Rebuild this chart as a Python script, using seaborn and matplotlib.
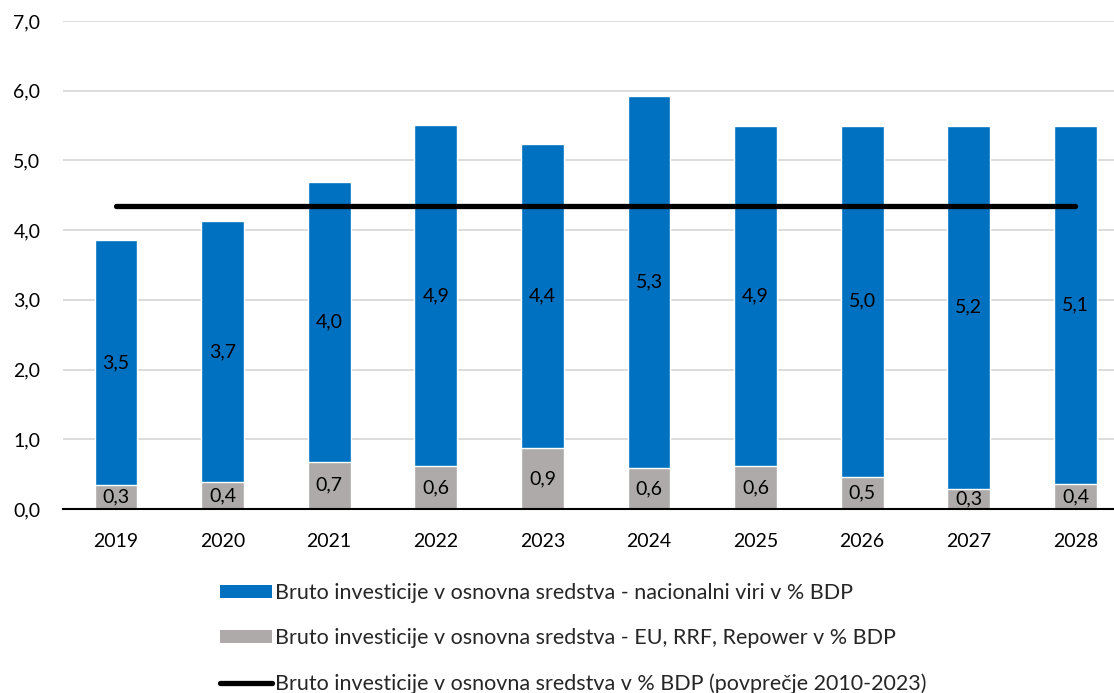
import numpy as np
import pandas as pd
import matplotlib
matplotlib.use("Agg")
import matplotlib.pyplot as plt
import seaborn as sns
from matplotlib.patches import Patch
from matplotlib.lines import Line2D

years = ["2019", "2020", "2021", "2022", "2023", "2024", "2025", "2026", "2027", "2028"]
eu_vals = [0.34, 0.39, 0.68, 0.61, 0.87, 0.59, 0.62, 0.46, 0.29, 0.36]
national_vals = [3.52, 3.74, 4.01, 4.90, 4.37, 5.34, 4.88, 5.04, 5.21, 5.14]
avg_value = 4.34
y_ticks = [0, 1, 2, 3, 4, 5, 6, 7]

label_nat = "Bruto investicije v osnovna sredstva - nacionalni viri v % BDP"
label_eu = "Bruto investicije v osnovna sredstva - EU, RRF, Repower v % BDP"
label_avg = "Bruto investicije v osnovna sredstva v % BDP (povprečje 2010-2023)"

BLUE = "#0070C0"
GREY = "#AEAAAA"

sns.set_theme(style="white")
plt.rcParams["font.family"] = ["Lato", "DejaVu Sans"]

df = pd.DataFrame({"year": years, "eu": eu_vals, "nat": national_vals})
df["total"] = df["eu"] + df["nat"]

fig = plt.figure(figsize=(11.14, 6.93), dpi=100)
W, H = 1114, 693
ax = fig.add_axes([62.7 / W, (H - 509) / H, 1066 / W, 488 / H])

sns.barplot(data=df, x="year", y="total", color=BLUE, saturation=1, width=0.4, ax=ax, zorder=2)
sns.barplot(data=df, x="year", y="eu", color=GREY, saturation=1, width=0.4, ax=ax, zorder=3)

xs = np.arange(len(years))
ax.plot(xs, [avg_value] * len(years), color="black", lw=3.8, solid_capstyle="round", zorder=4)

fmt = lambda v: f"{v:.1f}".replace(".", ",")
for i, (e, n) in enumerate(zip(eu_vals, national_vals)):
    ax.text(i, e / 2, fmt(e), ha="center", va="center", fontsize=14, color="black", zorder=5)
    ax.text(i, e + n / 2, fmt(n), ha="center", va="center", fontsize=14, color="black", zorder=5)

ax.set_ylim(0, 7)
ax.set_xlim(-0.5, len(years) - 0.5)
ax.set_yticks(y_ticks)
ax.set_yticklabels([fmt(t) for t in y_ticks])
ax.set_xlabel("")
ax.set_ylabel("")
ax.yaxis.grid(True, color="#D9D9D9", lw=1.3, zorder=0)
ax.set_axisbelow(True)
for s in ["top", "right", "left"]:
    ax.spines[s].set_visible(False)
ax.spines["bottom"].set_color("black")
ax.spines["bottom"].set_linewidth(1.5)
ax.spines["bottom"].set_zorder(6)
ax.tick_params(axis="y", length=0, pad=16, labelsize=14, labelcolor="black")
ax.tick_params(axis="x", length=0, pad=17, labelsize=14, labelcolor="black")

fs = 15.5
handles = [
    Patch(facecolor=BLUE, edgecolor="none"),
    Patch(facecolor=GREY, edgecolor="none"),
    Line2D([0], [0], color="black", lw=3.8, solid_capstyle="round"),
]
fig.legend(handles, [label_nat, label_eu, label_avg], loc="center left",
           bbox_to_anchor=(220 / W, (H - 638.5) / H), frameon=False, fontsize=fs,
           borderpad=0, borderaxespad=0, labelspacing=1.17, handlelength=2.42,
           handleheight=0.59, handletextpad=0.12)

fig.savefig("out.png", dpi=100)
